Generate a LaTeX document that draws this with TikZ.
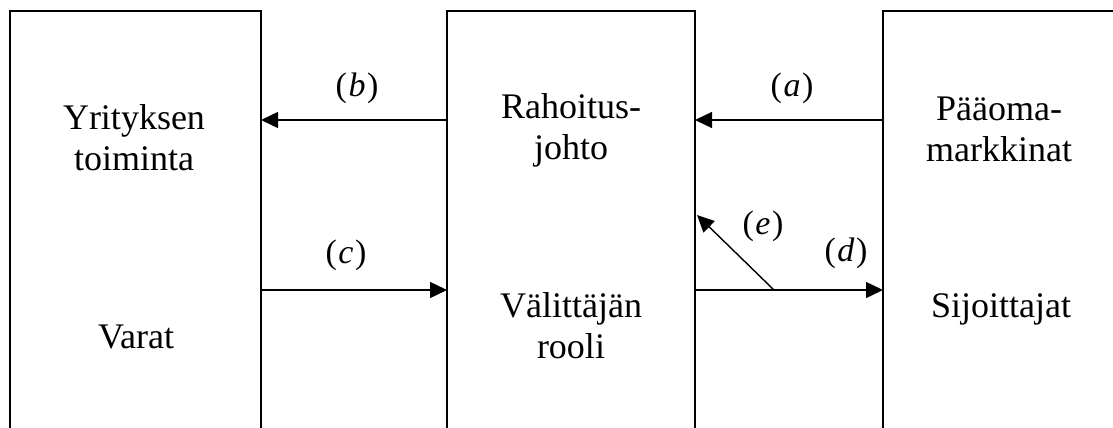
\documentclass[tikz,border=0pt]{standalone}
\usepackage{fontspec}
\setmainfont{Liberation Serif}
\usetikzlibrary{arrows.meta}
\begin{document}
\begin{tikzpicture}[x=1pt,y=-1pt,
  boxline/.style={line width=1.8pt},
  conn/.style={line width=1.4pt,-{Triangle[length=17pt,width=16pt]}},
  txt/.style={font=\fontsize{36}{41}\selectfont,align=center,anchor=base,inner sep=0pt},
  lbl/.style={font=\fontsize{34}{40}\selectfont,anchor=center,inner sep=0pt}]
\useasboundingbox (0,0) rectangle (1113,428);
% boxes (open at bottom)
\draw[boxline] (10,428) -- (10,11) -- (261,11) -- (261,428);
\draw[boxline] (447,428) -- (447,11) -- (695,11) -- (695,428);
\draw[boxline] (883,428) -- (883,11) -- (1113,11);
% connector end points on box edges
\coordinate (Lt) at (261,120);
\coordinate (Lb) at (261,290);
\coordinate (Mlt) at (447,120);
\coordinate (Mlb) at (447,290);
\coordinate (Mrt) at (695,120);
\coordinate (Mrb) at (695,290);
\coordinate (Mre) at (697,215);
\coordinate (Rt) at (883,120);
\coordinate (Rb) at (883,290);
\coordinate (E0) at (774,290);
% texts (base anchor = baseline of last line)
\node[txt] (yt) at (134,170) {Yrityksen\\toiminta};
\node[txt] (va) at (136,348) {Varat};
\node[txt] (rj) at (571,159) {Rahoitus-\\johto};
\node[txt] (vr) at (571,358) {Välittäjän\\rooli};
\node[txt] (pm) at (999,161) {Pääoma-\\markkinat};
\node[txt] (si) at (1001,317) {Sijoittajat};
% labels
\node[lbl] (la) at (792,88) {(\kern1.5pt\textit{a}\kern1.5pt)};
\node[lbl] (lb) at (357,88) {(\kern1.5pt\textit{b}\kern1.5pt)};
\node[lbl] (lc) at (346,255) {(\kern1.5pt\textit{c}\kern1.5pt)};
\node[lbl] (ld) at (846,253) {(\kern1.5pt\textit{d}\kern1.5pt)};
\node[lbl] (le) at (763,226) {(\kern1.5pt\textit{e}\kern1.5pt)};
% connectors
\draw[conn] (Mlt) -- (Lt);
\draw[conn] (Rt) -- (Mrt);
\draw[conn] (Lb) -- (Mlb);
\draw[conn] (Mrb) -- (Rb);
\draw[conn] (E0) -- (Mre);
\end{tikzpicture}
\end{document}
